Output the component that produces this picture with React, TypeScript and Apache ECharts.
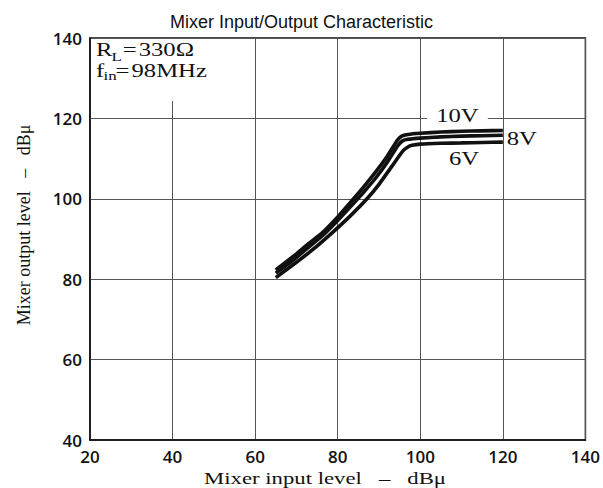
import React, { useEffect, useRef } from "react";
import * as echarts from "echarts";

const titleText = "Mixer Input/Output Characteristic";
const xAxisName = "Mixer input level\u00a0\u00a0\u00a0–\u00a0\u00a0\u00a0dBμ";
const yAxisName = "Mixer output level\u00a0\u00a0\u00a0–\u00a0\u00a0\u00a0dBμ";

const xMin = 20;
const xMax = 140;
const yMin = 40;
const yMax = 140;
const tickStep = 20;

const input10V = [65, 70, 73, 76.3, 80, 82.8, 86, 89.3, 92, 94.4, 95.5, 97, 100, 105, 110, 115, 120];
const output10V = [82.3, 86.3, 88.9, 91.6, 95.5, 98.8, 102.6, 106.8, 110.6, 114.5, 115.6, 116.0, 116.3, 116.6, 116.8, 116.9, 117.0];

const input8V = [65, 70, 73, 76.3, 80, 82.8, 86, 89.3, 92, 94.6, 95.7, 97, 100, 105, 110, 115, 120];
const output8V = [81.5, 85.4, 88.0, 90.8, 94.6, 97.7, 101.3, 105.3, 109.1, 113.3, 114.4, 114.8, 115.1, 115.4, 115.6, 115.7, 115.8];

const input6V = [65, 70, 74, 78.7, 83, 87.1, 90, 93.2, 95.8, 97, 98, 100, 105, 110, 115, 120];
const output6V = [80.4, 84.2, 87.4, 91.6, 95.7, 100.0, 103.6, 108.2, 111.9, 112.9, 113.3, 113.6, 113.8, 113.9, 114.0, 114.1];

const curveNames = ["10V", "8V", "6V"];
const curveLabelX = [109, 124.6, 110.6];
const curveLabelY = [120.7, 115.0, 110.1];

const pair = (xs: number[], ys: number[]) => xs.map((x, i) => [x, ys[i]]);

export default function App() {
  const ref = useRef<HTMLDivElement>(null);
  useEffect(() => {
    if (!ref.current) return;
    const chart = echarts.init(ref.current, undefined, { renderer: "svg" });
    const serif = "'Liberation Serif', 'DejaVu Serif', serif";
    const ink = "#111";
    const stretch = 1.3;
    const lineStyle = { color: ink, width: 3.6 };
    const curves = [
      pair(input10V, output10V),
      pair(input8V, output8V),
      pair(input6V, output6V),
    ];
    const option: any = {
      animation: false,
      backgroundColor: "#fff",
      title: {
        text: titleText,
        left: "center",
        top: 8,
        textStyle: {
          fontFamily: "'Liberation Sans', Arial, sans-serif",
          fontSize: 18,
          fontWeight: "normal",
          color: ink,
        },
      },
      grid: {
        left: 90,
        right: 16,
        top: 38,
        bottom: 48,
        show: true,
        borderColor: ink,
        borderWidth: 1.5,
        backgroundColor: "transparent",
      },
      xAxis: {
        type: "value",
        min: xMin,
        max: xMax,
        interval: tickStep,
        axisLine: { show: true, lineStyle: { color: ink, width: 1.5 } },
        axisTick: { show: false },
        axisLabel: {
          color: ink,
          fontFamily: "'Open Sans', sans-serif",
          fontWeight: 600,
          fontSize: 17,
          margin: 8,
        },
        splitLine: { show: true, lineStyle: { color: "#555", width: 1 } },
      },
      yAxis: {
        type: "value",
        min: yMin,
        max: yMax,
        interval: tickStep,
        name: yAxisName,
        nameLocation: "middle",
        nameGap: 57,
        nameRotate: 90,
        nameTextStyle: {
          fontFamily: serif,
          fontSize: 18,
          color: ink,
          padding: [0, 0, 0, 28],
        },
        axisLine: { show: true, lineStyle: { color: ink, width: 1.5 } },
        axisTick: { show: false },
        axisLabel: {
          color: ink,
          fontFamily: "'Open Sans', sans-serif",
          fontWeight: 600,
          fontSize: 17,
          margin: 8,
        },
        splitLine: { show: true, lineStyle: { color: "#555", width: 1 } },
      },
      series: curves.map((data, i) => ({
        type: "line",
        name: curveNames[i],
        data,
        showSymbol: false,
        smooth: 0.15,
        lineStyle,
        silent: true,
        z: 3,
      })),
    };
    chart.setOption(option);

    const labelEls = curveNames.map((n, i) => {
      const p = chart.convertToPixel({ gridIndex: 0 }, [curveLabelX[i], curveLabelY[i]]) as number[];
      return {
        type: "text",
        x: p[0],
        y: p[1],
        scaleX: stretch,
        z: 10,
        style: {
          text: n,
          font: `19px ${serif}`,
          fill: ink,
          align: "center",
          verticalAlign: "middle",
          backgroundColor: i === 0 ? "#fff" : undefined,
          padding: i === 0 ? [0, 7] : undefined,
        },
      };
    });

    const small = `13px ${serif}`;
    const big = `19px ${serif}`;
    const annot = (x: number, y: number, text: string, font: string) => ({
      type: "text",
      x: 96 + x * stretch,
      y,
      scaleX: stretch,
      z: 12,
      style: { text, font, fill: ink },
    });
    chart.setOption({
      graphic: [
        {
          type: "rect",
          shape: { x: 91, y: 39, width: 140, height: 62 },
          style: { fill: "#fff" },
          z: 5,
        },
        annot(0, 40.5, "R", big),
        annot(12, 50, "L", small),
        annot(20.5, 40.5, "=\u200a330Ω", big),
        annot(0, 61.5, "f", big),
        annot(5.8, 69, "in", small),
        annot(15, 61.5, "=\u200a98MHz", big),
        {
          type: "text",
          x: 325,
          y: 477.5,
          scaleX: stretch,
          z: 12,
          style: {
            text: xAxisName,
            font: `17.5px ${serif}`,
            fill: ink,
            align: "center",
            verticalAlign: "middle",
          },
        },
        ...labelEls,
      ],
    });
    return () => chart.dispose();
  }, []);
  return (
    <div
      ref={ref}
      style={{ position: "fixed", left: 0, top: 0, width: 603, height: 488 }}
    />
  );
}
